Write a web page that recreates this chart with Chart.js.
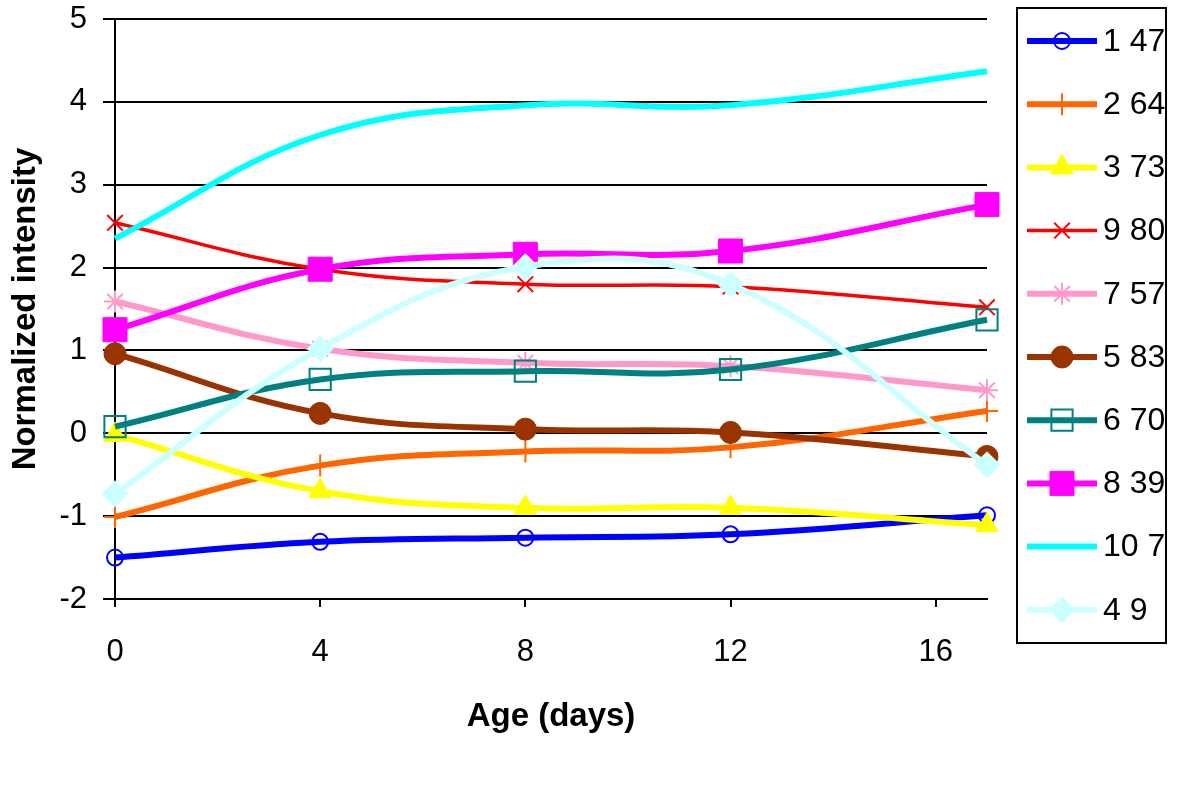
<!DOCTYPE html>
<html>
<head>
<meta charset="utf-8">
<script src="https://cdn.jsdelivr.net/npm/chart.js@4/dist/chart.umd.min.js"></script>
<style>
html,body{margin:0;padding:0;background:#fff;}
#c{display:block;}
</style>
</head>
<body>
<canvas id="c" width="1200" height="794"></canvas>
<script>
// ---- data ----
const days = [0, 4, 8, 12, 17];
const xTickValues = [0, 4, 8, 12, 16];
const yTickValues = [-2, -1, 0, 1, 2, 3, 4, 5];
const seriesNames = ['1 47', '2 64', '3 73', '9 80', '7 57', '5 83', '6 70', '8 39', '10 7', '4 9'];
const s1_47 = [-1.50, -1.31, -1.26, -1.22, -0.99];
const s2_64 = [-1.01, -0.39, -0.22, -0.17, 0.27];
const s3_73 = [-0.02, -0.70, -0.90, -0.90, -1.11];
const s9_80 = [2.54, 1.98, 1.80, 1.77, 1.52];
const s7_57 = [1.59, 1.02, 0.85, 0.81, 0.52];
const s5_83 = [0.96, 0.24, 0.05, 0.01, -0.28];
const s6_70 = [0.08, 0.65, 0.75, 0.77, 1.37];
const s8_39 = [1.25, 1.98, 2.16, 2.20, 2.76];
const s10_7 = [2.35, 3.60, 3.96, 3.96, 4.37];
const s4_9 = [-0.73, 1.02, 2.01, 1.80, -0.38];
const seriesValues = [s1_47, s2_64, s3_73, s9_80, s7_57, s5_83, s6_70, s8_39, s10_7, s4_9];

// ---- styles ----
const styles = [
  {color:'#0000ff', lw:6, ps:'circle',  r:8,  fill:false, bw:2},
  {color:'#ff6600', lw:6, ps:'cross',   r:11, fill:false, bw:2},
  {color:'#ffff00', lw:6, ps:'triangle',r:13, fill:true,  bw:1},
  {color:'#ff0000', lw:3.5, ps:'crossRot',r:11, fill:false, bw:2},
  {color:'#ff99cc', lw:6, ps:'star',    r:11, fill:false, bw:2},
  {color:'#993300', lw:6, ps:'circle',  r:11, fill:true,  bw:1},
  {color:'#008080', lw:6, ps:'rect',    r:15, fill:false, bw:2},
  {color:'#ff00ff', lw:6, ps:'rect',    r:17, fill:true,  bw:1},
  {color:'#00ffff', lw:6, ps:'circle',  r:0,  fill:true,  bw:0},
  {color:'#ccffff', lw:6, ps:'rectRot', r:13, fill:true,  bw:1}
];

const N = seriesNames.length;
const datasets = seriesNames.map((name, i) => {
  const st = styles[i];
  return {
    label: name,
    data: days.map((d, j) => ({x: d, y: seriesValues[i][j]})),
    borderColor: st.color,
    backgroundColor: st.color,
    borderWidth: st.lw,
    tension: 0.4,
    pointStyle: st.ps,
    pointRadius: st.r,
    pointHoverRadius: st.r,
    pointBorderWidth: st.bw,
    pointBorderColor: st.color,
    pointBackgroundColor: st.fill ? st.color : 'rgba(0,0,0,0)',
    order: N - i,
    clip: false
  };
});

const legendPlugin = {
  id: 'boxLegend',
  afterDraw(chart) {
    const ctx = chart.ctx;
    const bx = 1017, by = 8, bw = 149, bh = 635;
    ctx.save();
    ctx.lineWidth = 2;
    ctx.strokeStyle = '#000';
    ctx.strokeRect(bx, by, bw, bh);
    const step = 63.2;
    const y0 = 41;
    ctx.font = '32px "Liberation Sans", Arial, sans-serif';
    ctx.textBaseline = 'middle';
    ctx.textAlign = 'left';
    chart.data.datasets.forEach((ds, i) => {
      const y = y0 + i * step;
      ctx.beginPath();
      ctx.lineWidth = ds.borderWidth;
      ctx.strokeStyle = ds.borderColor;
      ctx.lineCap = 'butt';
      ctx.moveTo(1027, y);
      ctx.lineTo(1097, y);
      ctx.stroke();
      if (ds.pointRadius > 0) {
        ctx.fillStyle = ds.pointBackgroundColor;
        ctx.strokeStyle = ds.pointBorderColor;
        ctx.lineWidth = ds.pointBorderWidth;
        Chart.helpers.drawPoint(ctx, {pointStyle: ds.pointStyle, radius: ds.pointRadius, rotation: 0, borderWidth: ds.pointBorderWidth}, 1062, y);
      }
      ctx.fillStyle = '#000';
      ctx.fillText(ds.label, 1103, y + 1);
    });
    ctx.restore();
  }
};

const tickFont = {family: '"Liberation Sans", Arial, sans-serif', size: 31};
const titleFont = {family: '"Liberation Sans", Arial, sans-serif', size: 33, weight: 'bold'};

new Chart(document.getElementById('c'), {
  type: 'line',
  data: {datasets},
  options: {
    responsive: false,
    animation: false,
    events: [],
    layout: {padding: {left: 0, top: 19, right: 213, bottom: 0}},
    plugins: {legend: {display: false}, tooltip: {enabled: false}},
    scales: {
      x: {
        type: 'linear',
        min: 0, max: 17,
        afterBuildTicks: (s) => { s.ticks = xTickValues.map(v => ({value: v})); },
        afterFit: (s) => { s.height = 195; s.paddingLeft = 0; s.paddingRight = 0; s.paddingTop = 0; s.paddingBottom = 0; },
        ticks: {font: tickFont, color: '#000', padding: 27, maxRotation: 0, autoSkip: false},
        grid: {drawOnChartArea: false, drawTicks: true, tickLength: 8, color: '#000', lineWidth: 2},
        border: {display: true, color: '#000', width: 2},
        title: {display: true, text: 'Age (days)', font: titleFont, color: '#000', padding: {top: 0, bottom: 57}}
      },
      y: {
        type: 'linear',
        min: -2, max: 5,
        afterBuildTicks: (s) => { s.ticks = yTickValues.map(v => ({value: v})); },
        afterFit: (s) => { s.width = 115; s.paddingTop = 0; s.paddingBottom = 0; s.paddingLeft = 0; s.paddingRight = 0; },
        ticks: {font: tickFont, color: '#000', padding: 16, autoSkip: false},
        grid: {drawOnChartArea: true, drawTicks: true, tickLength: 12, color: '#000', lineWidth: 2},
        border: {display: true, color: '#000', width: 2},
        title: {display: true, text: 'Normalized intensity', font: titleFont, color: '#000', padding: {top: 6, bottom: 0}}
      }
    }
  },
  plugins: [legendPlugin]
});
</script>
</body>
</html>
